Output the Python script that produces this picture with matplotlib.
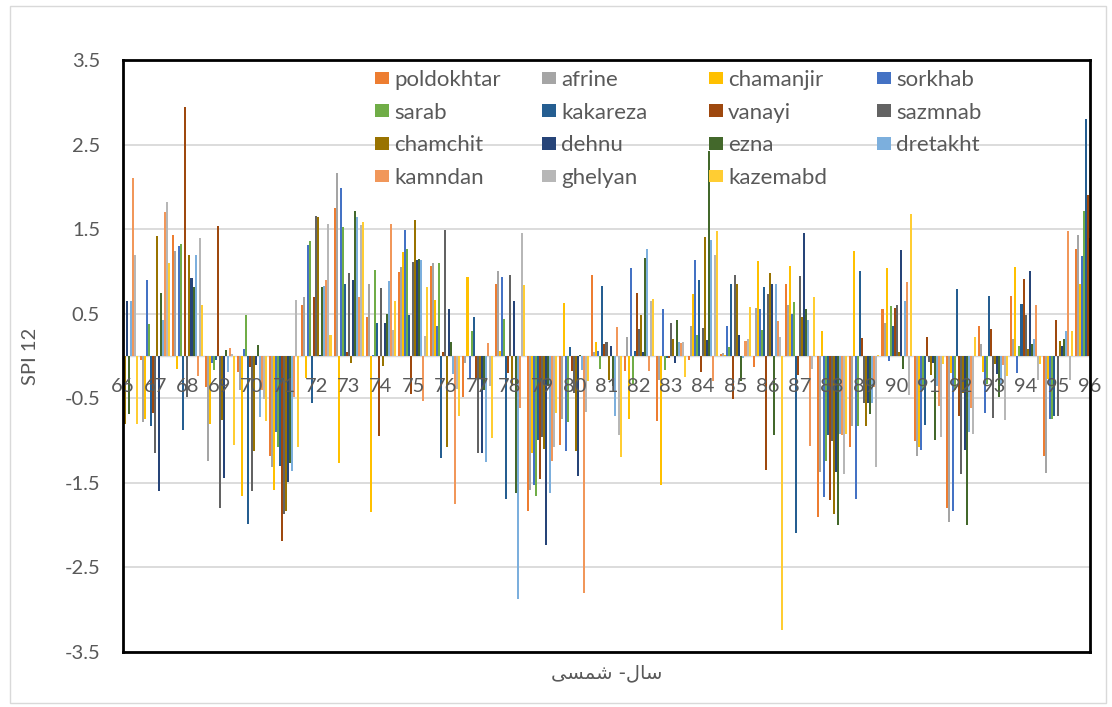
import matplotlib
matplotlib.use('Agg')
import matplotlib.pyplot as plt
import numpy as np
from matplotlib.patches import Rectangle
from matplotlib.legend import Legend

nan = np.nan

# categories (years, shamsi)
years = ['66', '67', '68', '69', '70', '71', '72', '73', '74', '75', '76',
         '77', '78', '79', '80', '81', '82', '83', '84', '85', '86', '87',
         '88', '89', '90', '91', '92', '93', '94', '95', '96']

# SPI 12 per station (nan = bar hidden outside plot area)
poldokhtar = [nan, -0.05, 1.43, -0.37, -0.19, -1.18, 0.60, 1.75, 0.46, 0.99, 1.06,
              -0.48, 0.85, -1.83, -1.05, 0.96, -0.18, -0.77, -0.05, 0.02, -0.13,
              0.85, -1.90, -1.08, 0.56, -1.00, -1.80, 0.35, 0.71, -1.18, 1.27]
afrine = [nan, -0.78, 1.24, -1.24, -0.40, -1.31, 0.70, 2.16, 0.85, 1.05, 1.10,
          -0.08, 1.00, -1.58, -0.75, 0.05, 0.22, -0.28, 0.35, 0.04, 0.57,
          0.60, -1.37, -0.83, 0.39, -1.18, -1.96, 0.14, 0.20, -1.38, 1.43]
chamanjir = [nan, -0.75, -0.15, -0.80, -1.65, -1.59, -0.26, -1.26, -1.85, 1.23, 0.66,
             0.93, 0.06, -1.15, 0.63, 0.17, -0.74, -1.52, 0.73, 0.01, 1.12,
             1.06, 0.30, 1.24, 1.04, -1.08, -0.20, -0.19, 1.05, -0.27, 0.85]
sorkhab = [nan, 0.90, 1.30, -0.08, 0.08, -0.90, 1.31, 1.99, 0.01, 1.49, 0.35,
           -0.26, 0.93, -1.53, -1.12, 0.06, 1.04, 0.55, 1.14, 0.36, 0.55,
           0.50, -1.67, -1.69, -0.06, -1.11, -1.83, -0.67, -0.20, -0.74, 1.18]
sarab = [nan, 0.38, 1.33, -0.17, 0.49, -1.08, 1.36, 1.53, 1.02, 1.27, 1.10,
         0.30, 0.44, -1.65, -0.78, -0.15, -0.33, -0.17, 0.25, 0.11, 0.31,
         0.64, -1.24, -0.83, 0.59, -0.40, -0.40, -0.33, 0.12, -0.74, 1.72]
kakareza = [nan, -0.83, -0.87, -0.05, -1.99, -1.30, -0.55, 0.85, 0.39, 0.49, -1.21,
            0.46, -1.69, -0.99, 0.11, 0.83, 0.06, -0.02, 0.90, 0.85, 0.82,
            -2.09, -0.94, 1.00, 0.35, -0.81, 0.79, 0.71, 0.61, -0.71, 2.80]
vanayi = [nan, -0.67, 2.95, 1.54, -0.13, -2.19, 0.70, 0.05, -0.95, -0.45, 0.05,
          -0.26, -0.20, -1.46, -0.18, 0.14, 0.75, -0.02, -0.19, -0.51, -1.35,
          -0.22, -1.70, 0.21, 0.57, 0.23, -0.71, 0.32, 0.91, 0.42, 1.90]
sazmnab = [-0.75, -1.15, -0.48, -1.80, -1.60, -1.87, 1.65, 0.98, 0.80, 1.11, 1.49,
           -1.15, 0.96, -0.96, -0.44, 0.16, 0.32, 0.39, 0.33, 0.96, 0.73,
           0.95, -1.00, -0.55, 0.60, -0.07, -1.39, -0.73, 0.48, -0.71, 1.40]
chamchit = [-0.80, 1.42, 1.19, -0.76, -1.12, -1.83, 1.64, -0.08, -0.12, 1.61, -1.08,
            -0.26, -0.35, -1.10, -1.12, -0.28, 0.48, 0.20, 1.41, 0.85, 0.98,
            0.46, -1.87, -0.83, 0.05, -0.22, -0.44, -0.10, 0.08, 0.18, nan]
dehnu = [0.65, -1.60, 0.92, -1.44, -0.11, -1.49, 0.01, 0.90, 0.39, 1.14, 0.55,
         -1.15, 0.65, -2.24, -1.42, 0.12, 0.05, -0.08, 0.19, 0.25, 0.85,
         1.45, -1.37, -0.55, 1.25, -0.08, -1.11, -0.21, 1.00, 0.12, nan]
ezna = [-0.69, 0.74, 0.82, 0.07, 0.13, -1.26, 0.81, 1.72, 0.50, 1.15, 0.17,
        -0.40, -1.62, -0.35, 0.01, -0.35, 1.16, 0.43, 2.42, -0.30, -0.94,
        0.56, -2.00, -0.69, -0.15, -0.99, -2.00, -0.49, 0.14, 0.20, nan]
dretakht = [0.65, 0.43, 1.19, -0.19, -0.72, -1.36, 0.83, 1.64, 0.89, 1.13, -0.21,
            -1.25, -2.87, -1.62, -0.17, -0.71, 1.26, 0.17, 1.37, -0.02, 0.85,
            0.42, -0.92, -0.55, 0.65, -0.35, -0.90, -0.35, 0.20, 0.30, nan]
kamndan = [2.11, 1.70, -0.24, 0.09, -0.40, -0.48, 0.90, 0.70, 1.56, -0.53, -1.75,
           0.15, -0.62, -1.24, -2.80, 0.34, -0.18, 0.15, -0.30, 0.18, 0.41,
           -1.06, -0.94, -0.37, 0.88, -0.59, -0.62, -0.11, 0.60, 1.48, nan]
ghelyan = [1.20, 1.82, 1.39, 0.02, -0.51, 0.66, 1.56, 1.55, 0.31, 0.24, -0.39,
           -0.35, 1.46, -1.08, -0.66, -0.93, 0.65, 0.16, 1.20, 0.20, 0.23,
           -0.15, -1.39, -1.31, -0.46, -0.96, -0.92, -0.76, -0.28, -0.28, nan]
kazemabd = [-0.80, 1.10, 0.60, -1.05, -0.77, -1.08, 0.25, 1.59, 0.65, 0.81, -0.71,
            -0.97, 0.84, -0.67, -0.30, -1.19, 0.67, -0.25, 1.48, 0.58, -3.24,
            0.70, -0.92, 0.01, 1.68, -0.10, 0.22, -0.24, -0.09, 0.30, nan]

names = ['poldokhtar', 'afrine', 'chamanjir', 'sorkhab', 'sarab', 'kakareza',
         'vanayi', 'sazmnab', 'chamchit', 'dehnu', 'ezna', 'dretakht',
         'kamndan', 'ghelyan', 'kazemabd']
series = [poldokhtar, afrine, chamanjir, sorkhab, sarab, kakareza, vanayi,
          sazmnab, chamchit, dehnu, ezna, dretakht, kamndan, ghelyan, kazemabd]
colors = ['#ED7D31', '#A5A5A5', '#FFC000', '#4472C4', '#70AD47', '#255E91',
          '#9E480E', '#636363', '#997300', '#264478', '#43682B', '#7CAFDD',
          '#F1975A', '#B7B7B7', '#FFCD33']

plt.rcParams['font.family'] = ['Lato', 'DejaVu Sans']
plt.rcParams['axes.unicode_minus'] = False
txt = '#595959'
fs = 14.5

W, H = 1112, 707
fig = plt.figure(figsize=(W / 100, H / 100), dpi=100)
L, R, T, B = 123, 1090, 60, 652
ax = fig.add_axes([L / W, 1 - B / H, (R - L) / W, (B - T) / H])

x = np.arange(len(years))
w = 1 / 16
bars = []
for k, (vals, name, c) in enumerate(zip(series, names, colors)):
    b = ax.bar(x + (k - 7) * w, vals, width=w, color=c, linewidth=0,
               label=name, zorder=2)
    bars.append(b)

ax.set_xlim(0, len(years) - 1)
ax.set_ylim(-3.5, 3.5)
yt = [-3.5, -2.5, -1.5, -0.5, 0.5, 1.5, 2.5, 3.5]
ax.set_yticks(yt)
ax.set_yticklabels([f'{v:g}' for v in yt])
ax.set_xticks([])
ax.tick_params(axis='y', length=0, pad=16.5, labelsize=fs, labelcolor=txt)
ax.yaxis.grid(True, color='#D9D9D9', linewidth=1.3)
ax.set_axisbelow(True)
ax.axhline(0, color='#D9D9D9', linewidth=1, zorder=1)
for s in ax.spines.values():
    s.set_color('black')
    s.set_linewidth(2)

# category labels sit next to the zero line
for i, lab in enumerate(years):
    ax.annotate(lab, (i, 0), xytext=(0, -22), textcoords='offset points',
                ha='center', va='center', fontsize=fs, color=txt,
                annotation_clip=False, zorder=2.4)

ax.set_ylabel('SPI 12', fontsize=fs, color=txt)
ax.yaxis.set_label_coords((39 - L) / (R - L), 0.5)

# x-axis title (Persian, shaped presentation forms in visual order)
fig.text(607 / W, 1 - 673 / H, '\uFBFD\uFEB4\uFEE4\uFEB7 -\uFEDD\uFE8E\uFEB3',
         ha='center', va='center', fontsize=14, color=txt,
         family=['DejaVu Sans', 'Noto Sans'])

# legend laid out row-wise in 4 columns, like the original
cols = [[0, 4, 8, 12], [1, 5, 9, 13], [2, 6, 10, 14], [3, 7, 11]]
col_x = [375, 542, 709, 877]
for idx, cx in zip(cols, col_x):
    leg = Legend(ax, [bars[i] for i in idx], [names[i] for i in idx],
                 loc='upper left', bbox_to_anchor=(cx / W, 1 - 70 / H),
                 bbox_transform=fig.transFigure, frameon=False,
                 handlelength=0.65, handleheight=0.5, handletextpad=0.2,
                 labelspacing=0.57, borderpad=0, borderaxespad=0,
                 fontsize=16, labelcolor=txt)
    ax.add_artist(leg)

fig.add_artist(Rectangle((10 / W, 4 / H), 1096 / W, 697 / H,
                         transform=fig.transFigure, fill=False,
                         edgecolor='#D9D9D9', linewidth=1))

fig.savefig('out.png', dpi=100)
